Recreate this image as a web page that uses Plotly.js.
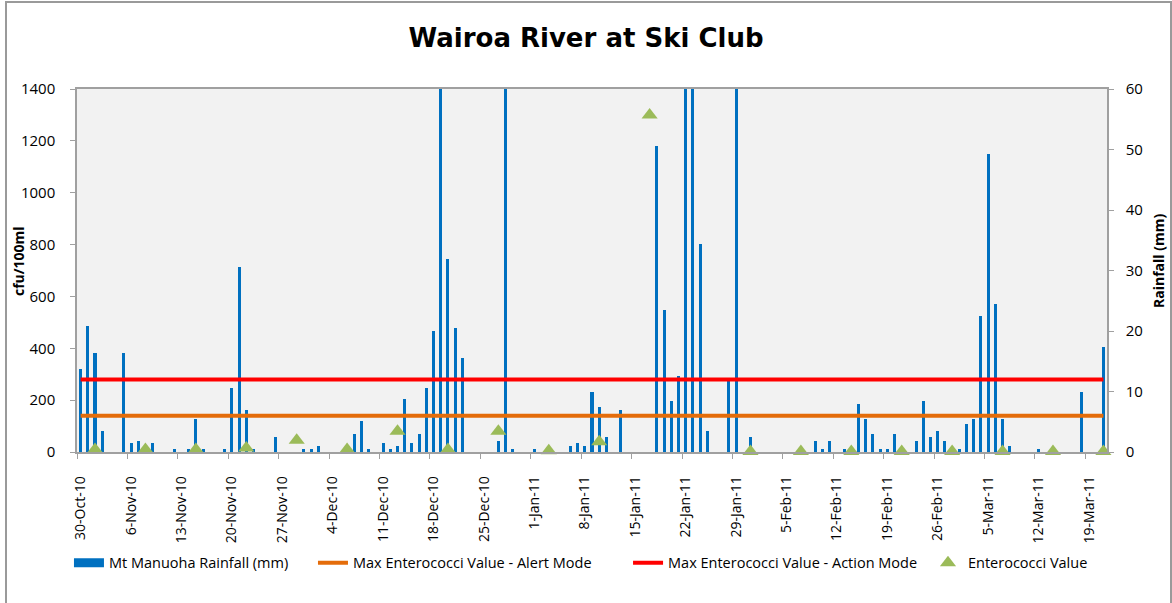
<!DOCTYPE html>
<html>
<head>
<meta charset="utf-8">
<script src="https://cdn.plot.ly/plotly-3.0.1.min.js"></script>
<style>
  body { margin: 0; background: #fff; }
  #plot { position: absolute; left: 0; top: 0; width: 1172px; height: 603px; }
  #frame { position: absolute; left: 5px; top: 1px; width: 1163px; height: 620px;
           border: 2px solid #9a9a9a; pointer-events: none; }
</style>
</head>
<body>
<div id="plot"></div>
<div id="frame"></div>
<script>
// daily rainfall at Mt Manuoha (mm), only days with rain
var rainDates = [
  '2010-10-30','2010-10-31','2010-11-01','2010-11-02','2010-11-05','2010-11-06','2010-11-07',
  '2010-11-09','2010-11-12','2010-11-14','2010-11-15','2010-11-16','2010-11-19','2010-11-20',
  '2010-11-21','2010-11-22','2010-11-23','2010-11-26','2010-11-30','2010-12-01','2010-12-02',
  '2010-12-07','2010-12-08','2010-12-09','2010-12-11','2010-12-12','2010-12-13','2010-12-14',
  '2010-12-15','2010-12-16','2010-12-17','2010-12-18','2010-12-19','2010-12-20','2010-12-21',
  '2010-12-22','2010-12-27','2010-12-28','2010-12-29','2011-01-01','2011-01-06','2011-01-07',
  '2011-01-08','2011-01-09','2011-01-10','2011-01-11','2011-01-13','2011-01-18','2011-01-19',
  '2011-01-20','2011-01-21','2011-01-22','2011-01-23','2011-01-24','2011-01-25','2011-01-28',
  '2011-01-29','2011-01-31','2011-02-09','2011-02-10','2011-02-11','2011-02-13','2011-02-15',
  '2011-02-16','2011-02-17','2011-02-18','2011-02-19','2011-02-20','2011-02-23','2011-02-24',
  '2011-02-25','2011-02-26','2011-02-27','2011-03-01','2011-03-02','2011-03-03','2011-03-04',
  '2011-03-05','2011-03-06','2011-03-07','2011-03-08','2011-03-12','2011-03-18','2011-03-21'
];
var rainMm = [
  13.8, 20.9, 16.4, 3.4, 16.4, 1.5, 1.9,
  1.5, 0.5, 0.5, 5.5, 0.5, 0.5, 10.5,
  30.5, 6.9, 0.5, 2.4, 0.5, 0.5, 1.0,
  2.9, 5.1, 0.5, 1.5, 0.5, 1.0, 8.8,
  1.5, 2.9, 10.5, 20.0, 72, 31.9, 20.5,
  15.5, 1.9, 68, 0.5, 0.5, 1.0, 1.5,
  1.0, 10.0, 7.4, 2.4, 6.9, 50.5, 23.4,
  8.4, 12.5, 75, 70, 34.3, 3.4, 11.7,
  65, 2.4, 1.9, 0.5, 1.9, 0.5, 7.9,
  5.5, 2.9, 0.5, 0.5, 2.9, 1.9, 8.4,
  2.4, 3.4, 1.9, 0.5, 4.6, 5.5, 22.4,
  49.3, 24.5, 5.5, 1.0, 0.5, 10.0, 17.4
];

// weekly enterococci samples (cfu/100ml)
var sampleDates = [
  '2010-11-01','2010-11-08','2010-11-15','2010-11-22','2010-11-29','2010-12-06','2010-12-13',
  '2010-12-20','2010-12-27','2011-01-03','2011-01-10','2011-01-17','2011-01-31','2011-02-07',
  '2011-02-14','2011-02-21','2011-02-28','2011-03-07','2011-03-14','2011-03-21'
];
var enterococci = [10, 10, 10, 15, 45, 10, 80, 10, 80, 5, 40, 1300, 2, 2, 2, 2, 2, 2, 2, 2];

// guideline levels
var alertLevel = 140;
var actionLevel = 280;
var firstDay = '2010-10-30';
var lastDay = '2011-03-21';

var DAY = 86400000;
var blue = '#0070C0';

var rain = {
  x: rainDates,
  y: rainMm,
  name: 'Mt Manuoha Rainfall (mm)',
  type: 'bar',
  width: 0.42 * DAY,
  marker: { color: blue },
  showlegend: false,
  yaxis: 'y'
};

// legend entry for the bars (Excel shows a wide block)
var rainKey = {
  x: [null],
  y: [null],
  name: 'Mt Manuoha Rainfall (mm)',
  mode: 'lines',
  line: { color: blue, width: 9 },
  legend: 'legend',
  yaxis: 'y'
};

var alert = {
  x: [firstDay, lastDay],
  y: [alertLevel, alertLevel],
  name: 'Max Enterococci Value - Alert Mode',
  mode: 'lines',
  line: { color: '#E46C0A', width: 4 },
  legend: 'legend2',
  yaxis: 'y2'
};

var action = {
  x: [firstDay, lastDay],
  y: [actionLevel, actionLevel],
  name: 'Max Enterococci Value - Action Mode',
  mode: 'lines',
  line: { color: '#FF0000', width: 4 },
  legend: 'legend3',
  yaxis: 'y2'
};

var samples = {
  x: sampleDates,
  y: enterococci,
  name: 'Enterococci Value',
  mode: 'markers',
  marker: { symbol: 'triangle-up', size: 14, color: '#9BBB59' },
  cliponaxis: false,
  legend: 'legend4',
  yaxis: 'y2'
};

var data = [rain, rainKey, alert, action, samples];

function legendAt(x){
  return {
    orientation: 'h',
    x: x, xanchor: 'left',
    y: -0.305, yanchor: 'middle',
    font: { size: 14.5 },
    bgcolor: 'rgba(0,0,0,0)'
  };
}

var layout = {
  width: 1172,
  height: 603,
  margin: { l: 77, r: 65, t: 89, b: 151 },
  paper_bgcolor: '#ffffff',
  plot_bgcolor: '#F2F2F2',
  font: { family: 'Open Sans, sans-serif', size: 14, color: '#000' },
  showlegend: true,
  title: {
    text: '<b>Wairoa River at Ski Club</b>',
    font: { family: 'DejaVu Sans, sans-serif', size: 26, color: '#000' },
    x: 0.5, xanchor: 'center',
    y: 1 - 38 / 603, yref: 'container', yanchor: 'middle'
  },
  bargap: 0,
  xaxis: {
    type: 'date',
    range: ['2010-10-29 12:00', '2011-03-21 12:00'],
    tick0: firstDay,
    dtick: 7 * DAY,
    tickformat: '%-d-%b-%y',
    tickangle: -90,
    ticks: '',
    ticklabelstandoff: 17,
    tickfont: { size: 14 },
    showgrid: false,
    zeroline: false,
    showline: true,
    mirror: true,
    linecolor: '#A0A0A0',
    linewidth: 1.5,
    minor: {
      tick0: '2010-10-29 12:00',
      dtick: 7 * DAY,
      ticks: 'outside',
      ticklen: 5,
      tickcolor: '#A0A0A0',
      showgrid: false
    }
  },
  yaxis: {
    side: 'right',
    range: [0, 60],
    dtick: 10,
    ticks: 'outside',
    ticklen: 5,
    tickcolor: '#A0A0A0',
    ticklabelstandoff: 9,
    showline: true,
    linecolor: '#A0A0A0',
    linewidth: 1.5,
    showgrid: false,
    zeroline: false,
    tickfont: { size: 15 }
  },
  yaxis2: {
    overlaying: 'y',
    side: 'left',
    range: [0, 1400],
    dtick: 200,
    ticks: 'outside',
    ticklen: 5,
    tickcolor: '#A0A0A0',
    ticklabelstandoff: 12,
    showline: true,
    linecolor: '#A0A0A0',
    linewidth: 1.5,
    showgrid: false,
    zeroline: false,
    tickfont: { size: 15 }
  },
  // axis titles placed as Excel does, close to the frame
  annotations: [
    {
      text: '<b>cfu/100ml</b>', textangle: -90, showarrow: false,
      xref: 'paper', yref: 'paper', x: (18 - 77) / 1030, y: (452 - 261) / 363,
      xanchor: 'center', yanchor: 'middle', font: { size: 14 }
    },
    {
      text: '<b>Rainfall (mm)</b>', textangle: -90, showarrow: false,
      xref: 'paper', yref: 'paper', x: (1158 - 77) / 1030, y: (452 - 261) / 363,
      xanchor: 'center', yanchor: 'middle', font: { size: 14 }
    }
  ],
  legend: legendAt(-0.0078),
  legend2: legendAt(0.2291),
  legend3: legendAt(0.5350),
  legend4: legendAt(0.8262)
};

Plotly.newPlot('plot', data, layout, { displayModeBar: false });
</script>
</body>
</html>
